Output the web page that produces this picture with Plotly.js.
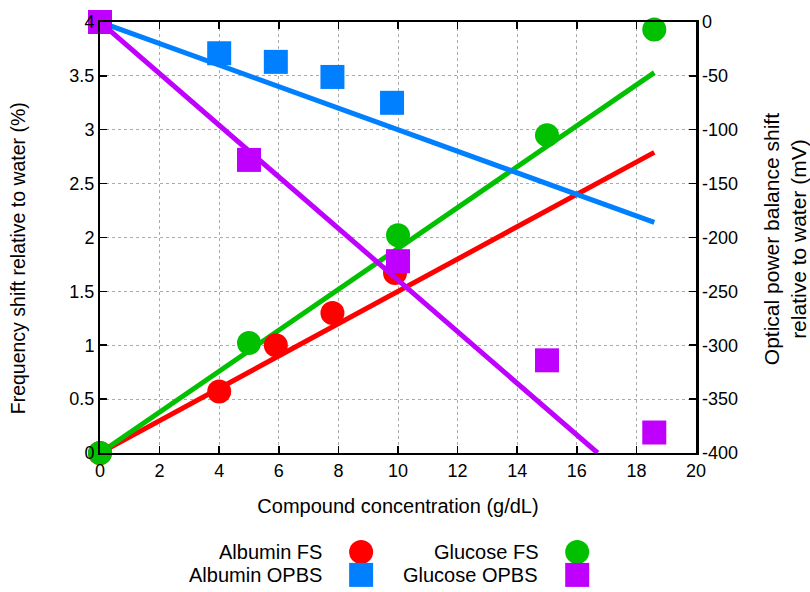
<!DOCTYPE html>
<html><head><meta charset="utf-8">
<script src="https://cdn.plot.ly/plotly-3.0.1.min.js"></script>
<style>html,body{margin:0;padding:0;background:#fff}</style>
</head><body>
<div id="chart" style="width:810px;height:592px"></div>
<script>
// Measured points
var albuminFsX = [0, 4, 5.9, 7.8, 9.9];
var albuminFsY = [0, 0.57, 1.0, 1.30, 1.67];
var glucoseFsX = [0, 5, 10, 15, 18.6];
var glucoseFsY = [0, 1.02, 2.02, 2.95, 3.93];
var albuminOpbsX = [0, 4, 5.9, 7.8, 9.8];
var albuminOpbsY = [0, -29, -37, -51, -75];
var glucoseOpbsX = [0, 5, 10, 15, 18.6];
var glucoseOpbsY = [0, -128, -222, -314, -381];
// Linear fit endpoints
var albuminFsFitX = [0, 18.6];
var albuminFsFitY = [0, 2.79];
var glucoseFsFitX = [0, 18.6];
var glucoseFsFitY = [0, 3.53];
var albuminOpbsFitX = [0, 18.6];
var albuminOpbsFitY = [0, -186];
var glucoseOpbsFitX = [0, 16.7];
var glucoseOpbsFitY = [0, -400];
// Legend
var legendLabels = ['Albumin FS', 'Glucose FS', 'Albumin OPBS', 'Glucose OPBS'];
var legendCol = [1, 2, 1, 2];
var legendRow = [1, 1, 2, 2];
var legendSymbols = ['circle', 'circle', 'square', 'square'];
var legendColors = ['#ff0000', '#00c000', '#0080ff', '#c000ff'];
// Ticks
var xTicks = [0, 2, 4, 6, 8, 10, 12, 14, 16, 18, 20];
var yTicks = [0, 0.5, 1, 1.5, 2, 2.5, 3, 3.5, 4];
var y2Ticks = [0, -50, -100, -150, -200, -250, -300, -350, -400];
// Titles
var xTitle = 'Compound concentration (g/dL)';
var yTitle = 'Frequency shift relative to water (%)';
var y2Title = 'Optical power balance shift<br>relative to water (mV)';

var RED = '#ff0000', GREEN = '#00c000', BLUE = '#0080ff', PURPLE = '#c000ff';
var FONT = 'Liberation Sans, Arial, sans-serif';
var LW = 5, MS = 24;

function fit(x, y, c, ax) {
  return {x: x, y: y, yaxis: ax, type: 'scatter', mode: 'lines', line: {color: c, width: LW}, showlegend: false, hoverinfo: 'skip'};
}
function pts(x, y, c, sym, ax, name) {
  return {x: x, y: y, yaxis: ax, type: 'scatter', mode: 'markers', name: name, cliponaxis: false,
    marker: {color: c, symbol: sym, size: MS, line: {width: 0}}, showlegend: false};
}

var traces = [
  fit(albuminFsFitX, albuminFsFitY, RED, 'y'),
  fit(glucoseFsFitX, glucoseFsFitY, GREEN, 'y'),
  pts(albuminFsX, albuminFsY, RED, 'circle', 'y', 'Albumin FS'),
  pts(glucoseFsX, glucoseFsY, GREEN, 'circle', 'y', 'Glucose FS'),
  fit(albuminOpbsFitX, albuminOpbsFitY, BLUE, 'y2'),
  fit(glucoseOpbsFitX, glucoseOpbsFitY, PURPLE, 'y2'),
  pts(albuminOpbsX, albuminOpbsY, BLUE, 'square', 'y2', 'Albumin OPBS'),
  pts(glucoseOpbsX, glucoseOpbsY, PURPLE, 'square', 'y2', 'Glucose OPBS'),
  {x: legendCol, y: legendRow, xaxis: 'x3', yaxis: 'y3', type: 'scatter', mode: 'markers', cliponaxis: false,
   marker: {color: legendColors, symbol: legendSymbols, size: MS, line: {width: 0}}, showlegend: false, hoverinfo: 'skip'}
];

var annotations = legendLabels.map(function (t, i) {
  return {text: t, xref: 'x3', yref: 'y3', x: legendCol[i], y: legendRow[i], xanchor: 'right', yanchor: 'middle',
    xshift: -37, showarrow: false, font: {family: FONT, size: 20, color: '#000'}};
});
annotations.push({text: yTitle, xref: 'paper', yref: 'paper', x: -0.1376, y: 0.5855, textangle: -90,
  xanchor: 'center', yanchor: 'middle', showarrow: false, font: {family: FONT, size: 19.5, color: '#000'}});
annotations.push({text: y2Title, xref: 'paper', yref: 'paper', x: 1.1493, y: 0.619, textangle: -90,
  xanchor: 'center', yanchor: 'middle', showarrow: false, font: {family: FONT, size: 21, color: '#000'}});

var tickFont = {family: FONT, size: 18, color: '#000'};
var layout = {
  width: 810, height: 592,
  margin: {l: 100, r: 114, t: 22, b: 0},
  paper_bgcolor: '#fff', plot_bgcolor: '#fff',
  showlegend: false,
  font: {family: FONT, color: '#000'},
  xaxis: {
    range: [0, 20], tickvals: xTicks, ticktext: xTicks.map(String),
    ticks: 'inside', ticklen: 7, tickwidth: 1.5, tickcolor: '#000',
    showline: true, linecolor: '#000', linewidth: 2.5, mirror: 'ticks',
    showgrid: true, gridcolor: '#aaaaaa', griddash: 'dot', gridwidth: 1,
    zeroline: false, tickfont: tickFont,
    title: {text: xTitle, font: {family: FONT, size: 20, color: '#000'}, standoff: 19}
  },
  yaxis: {
    domain: [0.2439, 1], range: [0, 4], tickvals: yTicks, ticktext: yTicks.map(String),
    ticks: 'inside', ticklen: 7, tickwidth: 1.5, tickcolor: '#000',
    showline: true, linecolor: '#000', linewidth: 2,
    showgrid: true, gridcolor: '#aaaaaa', griddash: 'dot', gridwidth: 1,
    zeroline: false, tickfont: tickFont
  },
  yaxis2: {
    overlaying: 'y', side: 'right', range: [-400, 0], tickvals: y2Ticks, ticktext: y2Ticks.map(String),
    ticks: 'inside', ticklen: 7, tickwidth: 1.5, tickcolor: '#000',
    showline: true, linecolor: '#000', linewidth: 2.5,
    showgrid: false, zeroline: false, tickfont: tickFont
  },
  xaxis3: {domain: [0.3, 0.9], anchor: 'y3', range: [0.619, 2.274], visible: false, fixedrange: true},
  yaxis3: {domain: [0, 0.1], anchor: 'x3', range: [2.75, 0.25], visible: false, fixedrange: true},
  annotations: annotations
};

Plotly.newPlot('chart', traces, layout, {displayModeBar: false, staticPlot: true});
</script>
</body></html>
